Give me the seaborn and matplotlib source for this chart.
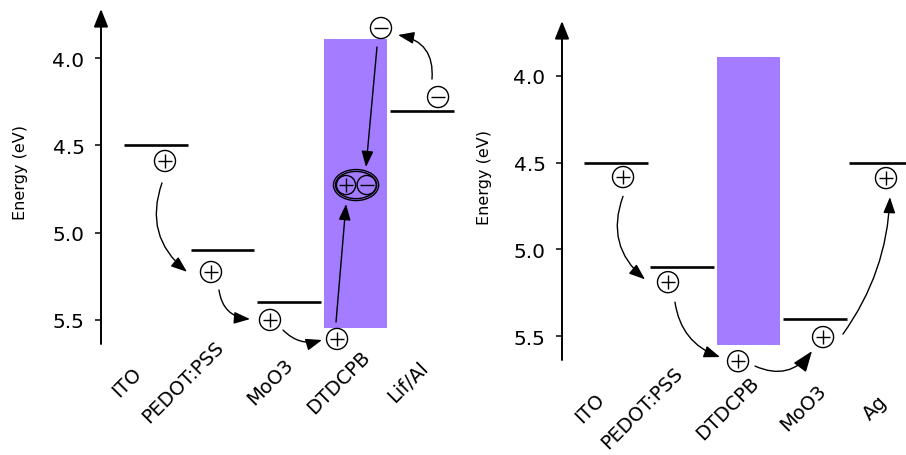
import matplotlib
matplotlib.use("Agg")
import matplotlib.pyplot as plt
import numpy as np
import seaborn as sns
from matplotlib.patches import Ellipse

# ---------------- data ----------------
left_layers = ["ITO", "PEDOT:PSS", "MoO3", "DTDCPB", "Lif/Al"]
left_levels = [4.5, 5.1, 5.4, np.nan, 4.3]          # eV, NaN = band drawn as box
right_layers = ["ITO", "PEDOT:PSS", "DTDCPB", "MoO3", "Ag"]
right_levels = [4.5, 5.1, np.nan, 5.4, 4.5]
dtdcpb_lumo = 3.89
dtdcpb_homo = 5.55
y_ticks = [4.0, 4.5, 5.0, 5.5]
y_tick_labels = ["4.0", "4.5", "5.0", "5.5"]

# charge annotations (x in layer-index units, y in eV)
left_holes_x = [0.135, 0.827, 1.714, 2.722]
left_holes_y = [4.589, 5.226, 5.501, 5.610]
left_electrons_x = [3.383, 4.241]
left_electrons_y = [3.826, 4.222]
exciton_x, exciton_y = 3.008, 4.727
right_holes_x = [0.106, 0.785, 1.842, 3.125, 4.075]
right_holes_y = [4.583, 5.188, 5.643, 5.504, 4.589]

# charge transfer arrows: (x_start, y_start, x_end, y_end, curvature, head size)
left_arrows = [
    (0.09, 4.715, 0.466, 5.225, 0.35, 13),
    (0.947, 5.329, 1.414, 5.496, 0.40, 13),
    (1.910, 5.559, 2.496, 5.616, 0.30, 13),
    (2.707, 5.513, 2.857, 4.836, 0.0, 13),
    (3.323, 3.935, 3.158, 4.624, 0.0, 13),
    (4.150, 4.119, 3.639, 3.866, 0.45, 13),
]
right_arrows = [
    (0.106, 4.694, 0.438, 5.172, 0.35, 13),
    (0.890, 5.303, 1.570, 5.619, 0.30, 13),
    (2.098, 5.671, 2.958, 5.585, 0.40, 17),
    (3.425, 5.487, 4.134, 4.698, 0.15, 13),
]

# tick label anchor positions (layer-index units)
left_label_x = [-0.436, 0.41, 1.714, 2.741, 3.789]
right_label_x = [-0.392, 0.40, 1.683, 2.827, 3.909]

PURPLE = "#a37cff"
W, H = 906, 456

sns.set_theme(style="white")
plt.rcParams["font.family"] = ["DejaVu Sans"]
plt.rcParams.update({"text.color": "black", "axes.labelcolor": "black",
                     "xtick.color": "black", "ytick.color": "black"})

fig = plt.figure(figsize=(W / 100, H / 100), dpi=100)


def px_axes(left, top, right, bottom):
    return fig.add_axes([left / W, 1 - bottom / H, (right - left) / W, (bottom - top) / H])


def draw_panel(ax, layers, levels, label_x, xlim, ylim, label_pad, ylabel_xy, arrows):
    ax.set_facecolor("none")
    for i, v in enumerate(levels):
        if np.isnan(v):
            ax.bar(i, dtdcpb_homo - dtdcpb_lumo, bottom=dtdcpb_lumo, width=0.96,
                   color=PURPLE, edgecolor="none", zorder=1)
        else:
            ax.hlines(v, i - 0.48, i + 0.48, color="black", lw=1.9, zorder=2)
    ax.set_xlim(*xlim)
    ax.set_ylim(*ylim)
    ax.set_yticks(y_ticks, y_tick_labels, fontsize=14.5)
    ax.set_xticks(label_x, layers, rotation=45, rotation_mode="anchor",
                  ha="center", va="center", fontsize=14)
    ax.tick_params(axis="x", length=0, pad=label_pad)
    ax.tick_params(axis="y", left=True, length=4.3, width=1.1, pad=7.5, direction="out",
                   color="black", labelcolor="black")
    ax.set_ylabel("Energy (eV)", fontsize=11.5, va="center", color="black")
    ax.yaxis.set_label_coords(*ylabel_xy)
    sns.despine(ax=ax, left=True, bottom=True)
    ax.grid(False)
    # axis line with arrow
    ax.annotate("", xy=(0, 1), xytext=(0, 0), xycoords="axes fraction",
                textcoords="axes fraction",
                arrowprops=dict(arrowstyle="-|>,head_length=0.6,head_width=0.24",
                                mutation_scale=18, lw=1.4, color="black",
                                shrinkA=0, shrinkB=0), annotation_clip=False)
    for x0, y0, x1, y1, rad, hs in arrows:
        ax.annotate("", xy=(x1, y1), xytext=(x0, y0),
                    arrowprops=dict(arrowstyle="-|>,head_length=0.75,head_width=0.28",
                                    mutation_scale=hs, lw=1.0, color="black",
                                    shrinkA=0, shrinkB=0,
                                    connectionstyle=f"arc3,rad={rad}"),
                    annotation_clip=False, zorder=4)


def charges(ax, xs, ys, sign, s=230, inner=110):
    ax.scatter(xs, ys, s=s, facecolors="none", edgecolors="black", linewidths=1.0,
               zorder=5, clip_on=False)
    ax.scatter(xs, ys, s=inner, marker="+" if sign > 0 else "_", c="black",
               linewidths=1.0, zorder=5, clip_on=False)


# ---------------- left panel ----------------
axL = px_axes(101, 10, 455, 345)
draw_panel(axL, left_layers, left_levels, left_label_x,
           xlim=(-0.827, 4.496), ylim=(5.639, 3.717), label_pad=27,
           ylabel_xy=(-80 / 354, 172.5 / 335), arrows=left_arrows)
charges(axL, left_holes_x, left_holes_y, +1)
charges(axL, left_electrons_x, left_electrons_y, -1)
# exciton
for w, h in [(0.68, 0.178), (0.62, 0.156)]:
    axL.add_patch(Ellipse((exciton_x, exciton_y), w, h, facecolor="none",
                          edgecolor="black", lw=1.0, zorder=5))
charges(axL, [exciton_x - 0.15], [exciton_y], +1, s=190, inner=100)
charges(axL, [exciton_x + 0.16], [exciton_y], -1, s=190, inner=100)

# ---------------- right panel ----------------
axR = px_axes(562, 22, 906, 361)
draw_panel(axR, right_layers, right_levels, right_label_x,
           xlim=(-0.815, 4.377), ylim=(5.636, 3.685), label_pad=34,
           ylabel_xy=(-77 / 344, 183.5 / 339), arrows=right_arrows)
charges(axR, right_holes_x, right_holes_y, +1)

fig.savefig("out.png", dpi=100)
